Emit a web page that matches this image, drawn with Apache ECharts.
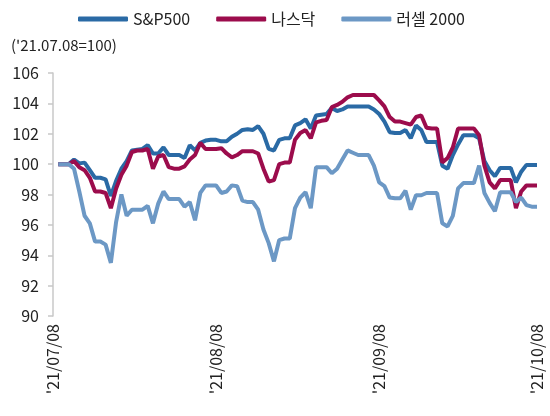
<!DOCTYPE html>
<html>
<head>
<meta charset="utf-8">
<script src="https://cdn.jsdelivr.net/npm/echarts@6/dist/echarts.min.js"></script>
<style>
  html, body { margin: 0; padding: 0; background: #fff; }
  #chart { width: 550px; height: 416px; }
</style>
</head>
<body>
<div id="chart"></div>
<script>
// daily index values ('21.07.08 = 100), first point on 2021-07-09
const startDate = "2021-07-09";
const sp500 = [
  100, 100, 100, 100.3, 100.05, 100.1, 99.6, 99.1, 99.1, 99.0,
  97.9, 98.9, 99.7, 100.2, 100.9, 100.95, 101.0, 101.25, 100.7, 100.7,
  101.1, 100.6, 100.6, 100.6, 100.4, 101.25, 100.9, 101.4, 101.55, 101.6,
  101.6, 101.5, 101.5, 101.8, 102.0, 102.25, 102.3, 102.25, 102.5, 102.0,
  101.0, 100.9, 101.6, 101.7, 101.7, 102.55, 102.7, 102.95, 102.35, 103.2,
  103.25, 103.3, 103.7, 103.5, 103.6, 103.8, 103.8, 103.8, 103.8, 103.8,
  103.6, 103.3, 102.8, 102.1, 102.05, 102.05, 102.25, 101.7, 102.55, 102.25,
  101.45, 101.45, 101.45, 99.9, 99.7, 100.6, 101.3, 101.9, 101.9, 101.9,
  101.7, 100.2, 99.6, 99.2, 99.75, 99.75, 99.75, 98.8, 99.5, 99.95,
  99.95, 99.95
];
const nasdaq = [
  100, 100, 100, 100.2, 99.8, 99.6, 99.1, 98.2, 98.2, 98.1,
  97.1, 98.4, 99.3, 99.9, 100.8, 100.9, 100.9, 101.0, 99.7, 100.5,
  100.6, 99.8, 99.7, 99.7, 99.85, 100.3, 100.6, 101.4, 101.0, 101.0,
  101.0, 101.05, 100.7, 100.45, 100.6, 100.85, 100.85, 100.85, 100.7, 99.7,
  98.85, 98.95, 100.0, 100.1, 100.1, 101.6, 102.05, 102.25, 101.7, 102.75,
  102.85, 102.9, 103.75, 103.9, 104.1, 104.4, 104.55, 104.55, 104.55, 104.55,
  104.55, 104.2, 103.8, 103.1, 102.8, 102.8, 102.7, 102.6, 103.1, 103.2,
  102.4, 102.35, 102.35, 100.1, 100.4, 101.1, 102.35, 102.35, 102.35, 102.35,
  101.9, 99.9, 98.8, 98.4, 98.95, 98.95, 98.95, 97.1, 98.2, 98.6,
  98.6, 98.6
];
const russell2000 = [
  100, 100, 100, 99.7, 98.2, 96.6, 96.1, 94.9, 94.9, 94.7,
  93.5, 96.2, 98.0, 96.6, 97.0, 97.0, 97.0, 97.25, 96.1, 97.4,
  98.2, 97.7, 97.7, 97.7, 97.2, 97.5, 96.3, 98.1, 98.6, 98.6,
  98.6, 98.1, 98.2, 98.6, 98.55, 97.6, 97.5, 97.5, 97.0, 95.7,
  94.8, 93.6, 95.0, 95.1, 95.1, 97.1, 97.8, 98.15, 97.1, 99.8,
  99.8, 99.8, 99.4, 99.7, 100.3, 100.9, 100.75, 100.6, 100.6, 100.6,
  99.9, 98.8, 98.55, 97.8, 97.75, 97.75, 98.25, 97.0, 97.95, 97.95,
  98.1, 98.1, 98.1, 96.1, 95.9, 96.6, 98.4, 98.75, 98.75, 98.75,
  99.9, 98.1, 97.45, 96.9, 98.15, 98.15, 98.15, 97.5, 97.8, 97.3,
  97.2, 97.2
];
const seriesNames = ["S&P500", "나스닥", "러셀 2000"];
const axisStart = "2021-07-08";
const tickDates = ["2021-07-08", "2021-08-08", "2021-09-08", "2021-10-08"];

// calendar-day categories from axisStart through the last data day
const pad = (n) => String(n).padStart(2, "0");
const isoDay = (d) => d.getUTCFullYear() + "-" + pad(d.getUTCMonth() + 1) + "-" + pad(d.getUTCDate());
const DAY = 24 * 3600 * 1000;
const a0 = Date.parse(axisStart + "T00:00:00Z");
const offset = Math.round((Date.parse(startDate + "T00:00:00Z") - a0) / DAY);
const days = [];
for (let i = 0; i < offset + sp500.length; i++) days.push(isoDay(new Date(a0 + i * DAY)));

const onAxis = (vals) => days.map((_, i) => (i < offset ? null : vals[i - offset]));
const fmtTick = (s) => "'" + s.slice(2, 4) + "/" + s.slice(5, 7) + "/" + s.slice(8, 10);

const font = "'Noto Sans CJK KR', 'Noto Sans', sans-serif";
const colors = ["#2a6aa5", "#9c0c4c", "#6c98c5"];

const chart = echarts.init(document.getElementById("chart"));
const mkSeries = (name, vals, color) => ({
  name,
  type: "line",
  data: onAxis(vals),
  showSymbol: false,
  lineStyle: { width: 4, color },
  itemStyle: { color },
});

chart.setOption({
  animation: false,
  textStyle: { fontFamily: font },
  title: {
    text: "('21.07.08=100)",
    left: 6,
    top: 33,
    textStyle: { fontSize: 15, fontWeight: "normal", color: "#222", fontFamily: font },
  },
  legend: {
    top: 6,
    left: 73,
    itemWidth: 50,
    itemHeight: 5,
    itemGap: 26,
    icon: "roundRect",
    textStyle: { fontSize: 16, color: "#222", fontFamily: font },
    data: seriesNames,
  },
  grid: { left: 53, right: 13, top: 73, bottom: 100 },
  xAxis: {
    type: "category",
    data: days,
    boundaryGap: false,
    axisLine: { show: false },
    axisTick: { show: false },
    splitLine: { show: false },
    axisLabel: {
      interval: (i, v) => tickDates.includes(v),
      rotate: 90,
      margin: 8,
      fontSize: 16,
      color: "#222",
      fontFamily: font,
      formatter: fmtTick,
    },
  },
  yAxis: {
    type: "value",
    min: 90,
    max: 106,
    interval: 2,
    axisLine: { show: true, lineStyle: { color: "#c8c8c8", width: 1.5 } },
    axisTick: { show: true, length: 5, lineStyle: { color: "#c8c8c8", width: 1.5 } },
    splitLine: { show: false },
    axisLabel: { fontSize: 16, color: "#222", margin: 14, fontFamily: font },
  },
  series: [
    mkSeries(seriesNames[0], sp500, colors[0]),
    mkSeries(seriesNames[1], nasdaq, colors[1]),
    mkSeries(seriesNames[2], russell2000, colors[2]),
  ],
});
</script>
</body>
</html>
